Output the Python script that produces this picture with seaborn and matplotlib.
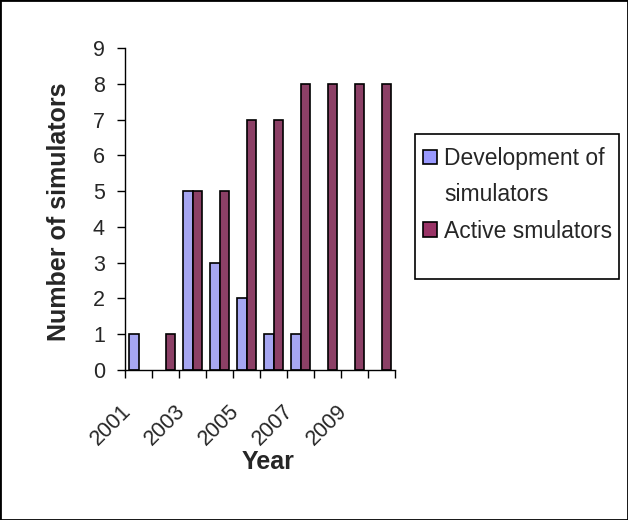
import matplotlib
matplotlib.use("Agg")
import matplotlib.pyplot as plt
import matplotlib.patches as mpatches
import seaborn as sns
import pandas as pd
from matplotlib.patches import Rectangle
from matplotlib.transforms import ScaledTranslation

years = [2001, 2002, 2003, 2004, 2005, 2006, 2007, 2008, 2009, 2010]
development = [1, 0, 5, 3, 2, 1, 1, 0, 0, 0]
active = [0, 1, 5, 5, 7, 7, 8, 8, 8, 8]
series_names = ["Development of\nsimulators", "Active smulators"]
colors = ["#9999FF", "#993366"]
tick_years = [2001, 2003, 2005, 2007, 2009]
yticks = list(range(0, 10))

df = pd.DataFrame({
    "Year": [str(y) for y in years] * 2,
    "Value": development + active,
    "Series": [series_names[0]] * len(years) + [series_names[1]] * len(years),
})

sns.set_style("white")
plt.rcParams["font.family"] = ["Liberation Sans", "DejaVu Sans"]

fig = plt.figure(figsize=(6.28, 5.2), dpi=100)
ax = fig.add_axes([125 / 628, 1 - 370 / 520, 270 / 628, 322 / 520])

sns.barplot(data=df, x="Year", y="Value", hue="Series",
            palette=colors, width=0.7,
            edgecolor="black", linewidth=1.2, ax=ax, legend=False)

# zero-height bars are not drawn in the reference
for p in ax.patches:
    if p.get_height() == 0:
        p.set_visible(False)

ax.set_xlim(-0.5, len(years) - 0.5)
ax.set_ylim(0, 9)
ax.set_yticks(yticks)
ax.set_yticklabels([str(v) for v in yticks], fontsize=15.5)
ax.tick_params(axis="y", direction="out", length=6, width=1, color="black", pad=8.5, left=True)

label_pos = [years.index(y) for y in tick_years]
ax.set_xticks(label_pos)
ax.set_xticklabels([str(y) for y in tick_years], fontsize=15.5, rotation=45,
                   ha="right", rotation_mode="anchor")
ax.tick_params(axis="x", which="major", length=0, pad=22)
offset = ScaledTranslation(-18 / 100, 0, fig.dpi_scale_trans)
for lbl in ax.get_xticklabels():
    lbl.set_transform(lbl.get_transform() + offset)
ax.set_xticks([i - 0.5 for i in range(len(years) + 1)], minor=True)
ax.tick_params(axis="x", which="minor", direction="out", length=6, width=1, color="black", bottom=True)

for s in ["top", "right"]:
    ax.spines[s].set_visible(False)
for s in ["left", "bottom"]:
    ax.spines[s].set_color("black")
    ax.spines[s].set_linewidth(1)

ax.set_xlabel("Year", fontsize=18, fontweight="bold", labelpad=0)
ax.xaxis.label.set_x(0.53)
ax.set_ylabel("Number of simulators", fontsize=18, fontweight="bold", labelpad=16)
ax.yaxis.label.set_y(0.49)

# legend: three rows so the swatch sits beside the first line of the two-line label
first, second = series_names[0].split("\n")
handles = [
    mpatches.Patch(facecolor=colors[0], edgecolor="black", linewidth=1.2),
    mpatches.Patch(facecolor="none", edgecolor="none"),
    mpatches.Patch(facecolor=colors[1], edgecolor="black", linewidth=1.2),
]
labels = [first, second, series_names[1]]
ax.legend(handles, labels, loc="upper left", bbox_to_anchor=(423 / 628, 1 - 147 / 520),
          bbox_transform=fig.transFigure, fontsize=16.5, frameon=False,
          handlelength=0.62, handleheight=0.62, handletextpad=0.3,
          borderpad=0.0, borderaxespad=0.0, labelspacing=0.58)

fig.patches.append(Rectangle((415 / 628, 1 - 279 / 520), 204 / 628, 145 / 520,
                             transform=fig.transFigure, fill=False,
                             edgecolor="black", linewidth=1.2))

fig.patches.append(Rectangle((0, 0), 1, 1, transform=fig.transFigure, fill=False,
                             edgecolor="black", linewidth=2))

fig.savefig("out.png", dpi=100)
